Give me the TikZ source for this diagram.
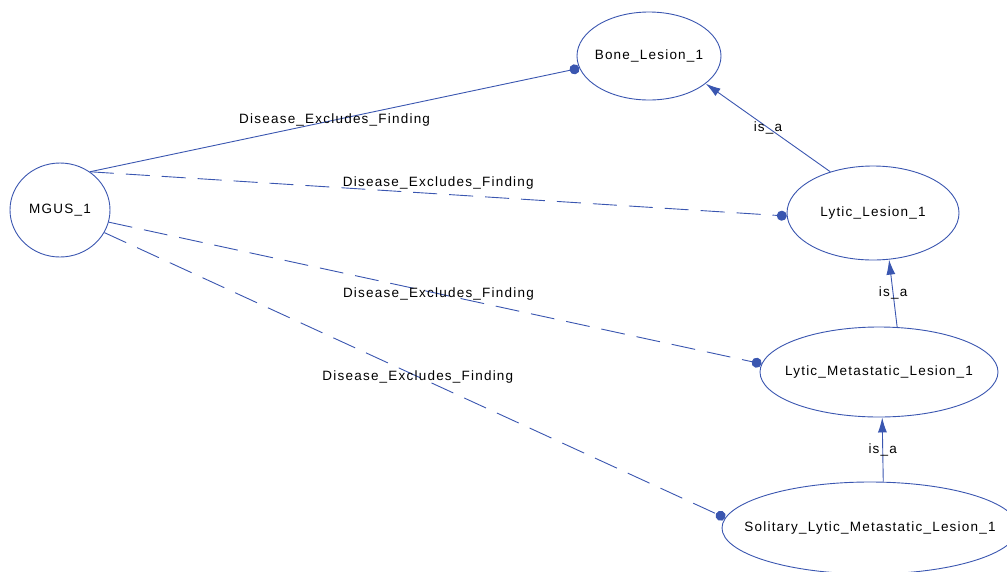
\documentclass[tikz,border=0pt]{standalone}
\usepackage{fontspec}
\setmainfont{Liberation Sans}[LetterSpace=9]
\usetikzlibrary{shapes.geometric,arrows.meta}
\definecolor{edgeblue}{RGB}{58,86,176}
\newcommand{\zw}[1]{\makebox[0pt]{#1}}
\begin{document}
\begin{tikzpicture}[x=1pt,y=-1pt,
  every node/.style={font=\fontsize{13.5}{16}\selectfont, text=black},
  ent/.style={ellipse, draw=edgeblue, line width=0.9pt, inner sep=0pt},
  excl/.style={draw=edgeblue, line width=0.9pt, line cap=butt, -{Circle[length=10pt,width=10pt]}},
  dashedge/.style={dash pattern=on 24pt off 12pt},
  isa/.style={draw=edgeblue, line width=0.9pt, -{Latex[length=15pt,width=9pt]}},
  lbl/.style={inner sep=1pt}
]
\useasboundingbox (0,0) rectangle (1007,571);
\node[ent, minimum width=100pt, minimum height=94pt] (m) at (60,210) {\zw{MGUS\_1}};
\node[ent, minimum width=144pt, minimum height=88pt] (b) at (649,56) {\zw{Bone\_Lesion\_1}};
\node[ent, minimum width=172pt, minimum height=94pt] (ll) at (873,213) {\zw{Lytic\_Lesion\_1}};
\node[ent, minimum width=238pt, minimum height=90pt] (lml) at (879,372) {\zw{Lytic\_Metastatic\_Lesion\_1}};
\node[ent, minimum width=296pt, minimum height=92pt] (s) at (870,528) {\zw{Solitary\_Lytic\_Metastatic\_Lesion\_1}};

\draw[excl] (m.52) -- node[lbl, pos=0.5] {Disease\_Excludes\_Finding} (b.190);
\draw[excl, dashedge] (m.52) -- node[lbl, pos=0.5, yshift=11pt] {Disease\_Excludes\_Finding} (ll.182);
\draw[excl, dashedge] (m.-14) -- node[lbl, pos=0.505] {Disease\_Excludes\_Finding} (lml.176);
\draw[excl, dashedge] (m.-27) -- node[lbl, pos=0.505] {Disease\_Excludes\_Finding} (s.176);

\draw[isa] (ll.136) -- node[lbl, midway] {is\_a} (b.-26);
\draw[isa] (lml.68) -- node[lbl, midway] {is\_a} (ll.-71);
\draw[isa] (s.74) -- node[lbl, midway] {is\_a} (lml.-86);
\end{tikzpicture}
\end{document}
